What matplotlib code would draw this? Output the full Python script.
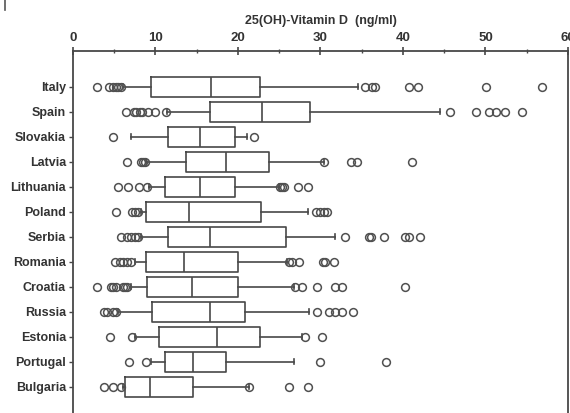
import matplotlib
matplotlib.use("Agg")
import matplotlib.pyplot as plt
from matplotlib.ticker import MultipleLocator

# values (ng/ml)
countries = ['Italy', 'Spain', 'Slovakia', 'Latvia', 'Lithuania', 'Poland', 'Serbia',
             'Romania', 'Croatia', 'Russia', 'Estonia', 'Portugal', 'Bulgaria']
whisker_low = [6.1, 11.4, 7.0, 8.8, 9.2, 8.3, 8.3, 7.5, 7.0, 5.5, 7.5, 9.5, 6.1]
q1 = [9.5, 16.6, 11.5, 13.7, 11.2, 8.8, 11.5, 8.8, 9.0, 9.6, 10.4, 11.1, 6.3]
median = [16.7, 22.9, 15.4, 18.6, 15.4, 14.1, 16.6, 13.4, 14.4, 16.6, 17.4, 14.6, 9.3]
q3 = [22.7, 28.7, 19.7, 23.7, 19.7, 22.8, 25.8, 20.0, 20.0, 20.9, 22.7, 18.6, 14.6]
whisker_high = [34.6, 44.5, 21.1, 30.4, 25.0, 28.5, 31.7, 26.0, 26.8, 28.6, 27.7, 26.8, 21.3]
outliers = [
    [2.95, 4.4, 4.8, 5.2, 5.5, 5.8, 35.4, 36.3, 36.6, 40.7, 41.8, 50.1, 56.9],
    [6.4, 7.4, 7.7, 8.1, 8.4, 9.1, 9.9, 11.3, 45.7, 48.8, 50.4, 51.3, 52.4, 54.4],
    [4.85, 21.9],
    [6.5, 8.2, 8.5, 8.7, 30.4, 33.7, 34.4, 41.1],
    [5.5, 6.7, 8.0, 9.0, 25.1, 25.3, 25.6, 27.3, 28.5],
    [5.2, 7.1, 7.5, 7.9, 29.5, 29.9, 30.4, 30.8],
    [5.8, 6.6, 7.0, 7.5, 7.9, 33.0, 35.9, 36.1, 37.7, 40.3, 40.7, 42.1],
    [5.1, 5.7, 6.1, 6.6, 7.0, 26.2, 26.6, 27.4, 30.3, 30.6, 31.6],
    [2.95, 4.6, 4.9, 5.2, 6.1, 6.3, 6.6, 26.9, 27.7, 29.6, 31.7, 32.6, 40.3],
    [3.8, 4.1, 4.8, 5.2, 29.6, 31.0, 31.8, 32.6, 34.0],
    [4.5, 7.1, 28.1, 30.2],
    [6.8, 8.8, 29.9, 38.0],
    [3.8, 4.8, 5.8, 21.3, 26.2, 28.5],
]

line_col = '#484848'
text_col = '#333333'

stats = []
for i, name in enumerate(countries):
    stats.append({'label': name, 'whislo': whisker_low[i], 'q1': q1[i], 'med': median[i],
                  'q3': q3[i], 'whishi': whisker_high[i], 'fliers': outliers[i]})

fig = plt.figure(figsize=(5.7, 4.13), dpi=100)
ax = fig.add_axes([0.128, 0.0, 0.8685, 0.877])

lp = dict(color=line_col, linewidth=1.2)
ax.bxp(stats, positions=range(len(countries)), orientation='horizontal', widths=0.78,
       capwidths=0.2, boxprops=lp, medianprops=lp, whiskerprops=lp, capprops=lp,
       flierprops=dict(marker='o', markersize=5.6, markerfacecolor='none',
                       markeredgecolor='#505050', markeredgewidth=1.1))

ax.set_ylim(13.05, -1.44)
ax.set_xlim(0, 60)

ax.xaxis.tick_top()
ax.xaxis.set_label_position('top')
ax.xaxis.set_major_locator(MultipleLocator(10))
ax.xaxis.set_minor_locator(MultipleLocator(5))
ax.tick_params(axis='x', which='major', direction='inout', length=6, width=1.2,
               colors=line_col, labelcolor=text_col, labelsize=9.5, pad=2)
ax.tick_params(axis='x', which='minor', direction='inout', length=3, width=1.0, colors=line_col)
ax.tick_params(axis='y', direction='out', length=3, width=1.0, colors=line_col,
               labelcolor=text_col, labelsize=9, pad=2)
for lab in ax.get_xticklabels() + ax.get_yticklabels():
    lab.set_fontfamily('Liberation Sans')
    lab.set_fontweight('bold')

ax.set_xlabel('25(OH)-Vitamin D  (ng/ml)', fontfamily='Liberation Sans', fontweight='bold',
              fontsize=9, color=text_col, labelpad=6)

for side in ['left', 'right', 'top']:
    ax.spines[side].set_color(line_col)
    ax.spines[side].set_linewidth(1.3)
ax.spines['bottom'].set_visible(False)

# little stray mark in the top-left corner of the source image
fig.add_artist(plt.Line2D([0.009, 0.009], [0.975, 1.0], color='#555555', linewidth=1.2))

fig.savefig('out.png', dpi=100)
